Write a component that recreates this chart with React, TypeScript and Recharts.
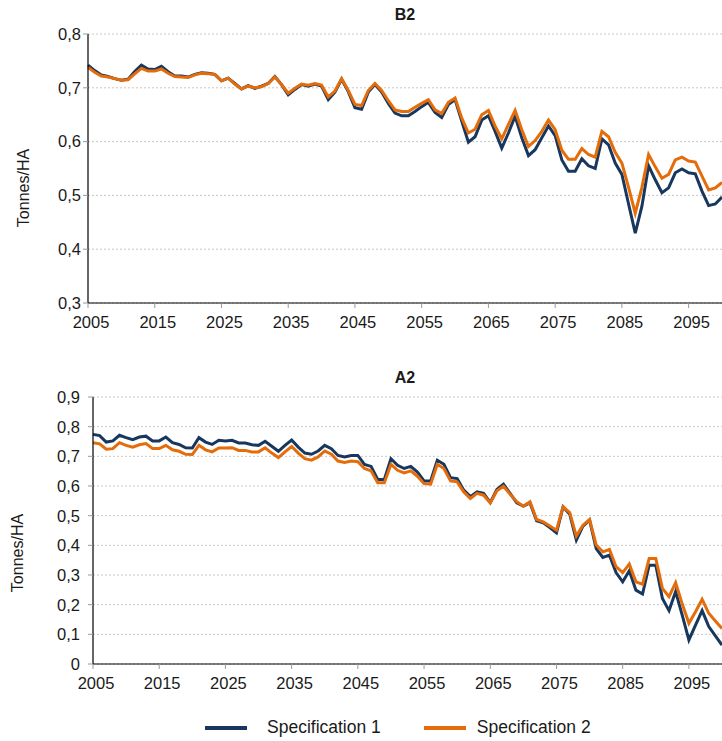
import React from 'react'
import { LineChart, Line, XAxis, YAxis, CartesianGrid } from 'recharts'

const YEARS: number[] = Array.from({ length: 96 }, (_, i) => 2005 + i)
const X_TICKS = [2005, 2015, 2025, 2035, 2045, 2055, 2065, 2075, 2085, 2095]

const B2_TICKS = [0.3, 0.4, 0.5, 0.6, 0.7, 0.8]
const A2_TICKS = [0, 0.1, 0.2, 0.3, 0.4, 0.5, 0.6, 0.7, 0.8, 0.9]

// B2 scenario, 2005..2100
const B2_SPEC1 = [
  0.742, 0.732, 0.724, 0.721, 0.717, 0.714, 0.716, 0.730, 0.742, 0.735,
  0.734, 0.740, 0.730, 0.722, 0.722, 0.720, 0.725, 0.728, 0.727, 0.725,
  0.713, 0.718, 0.708, 0.698, 0.704, 0.699, 0.703, 0.708, 0.721, 0.706,
  0.687, 0.697, 0.706, 0.703, 0.707, 0.703, 0.678, 0.692, 0.716, 0.693,
  0.663, 0.660, 0.692, 0.706, 0.692, 0.671, 0.653, 0.648, 0.648, 0.656,
  0.665, 0.673, 0.654, 0.645, 0.669, 0.678, 0.638, 0.599, 0.609, 0.640,
  0.648, 0.619, 0.588, 0.616, 0.647, 0.607, 0.574, 0.585, 0.607, 0.629,
  0.611, 0.566, 0.545, 0.545, 0.568, 0.555, 0.550, 0.605, 0.594, 0.560,
  0.539, 0.484, 0.430, 0.480, 0.555, 0.529, 0.505, 0.514, 0.542, 0.549,
  0.542, 0.540, 0.508, 0.481, 0.484, 0.497,
]
const B2_SPEC2 = [
  0.738, 0.729, 0.722, 0.720, 0.717, 0.714, 0.715, 0.726, 0.736, 0.731,
  0.731, 0.735, 0.727, 0.721, 0.720, 0.719, 0.724, 0.727, 0.726, 0.725,
  0.713, 0.718, 0.707, 0.698, 0.703, 0.700, 0.702, 0.708, 0.720, 0.706,
  0.690, 0.699, 0.707, 0.705, 0.708, 0.705, 0.683, 0.694, 0.717, 0.695,
  0.669, 0.667, 0.695, 0.708, 0.695, 0.676, 0.659, 0.656, 0.656, 0.664,
  0.671, 0.678, 0.659, 0.652, 0.673, 0.681, 0.644, 0.616, 0.623, 0.650,
  0.658, 0.629, 0.605, 0.632, 0.658, 0.622, 0.591, 0.602, 0.619, 0.640,
  0.622, 0.584, 0.567, 0.567, 0.587, 0.576, 0.571, 0.619, 0.609, 0.580,
  0.560, 0.515, 0.467, 0.515, 0.576, 0.553, 0.532, 0.539, 0.566, 0.571,
  0.564, 0.562, 0.536, 0.510, 0.514, 0.524,
]

// A2 scenario, 2005..2100
const A2_SPEC1 = [
  0.774, 0.770, 0.748, 0.752, 0.771, 0.763, 0.756, 0.765, 0.768, 0.752,
  0.752, 0.765, 0.746, 0.740, 0.729, 0.728, 0.763, 0.748, 0.740, 0.754,
  0.752, 0.754, 0.745, 0.745, 0.739, 0.737, 0.751, 0.734, 0.717, 0.737,
  0.755, 0.731, 0.711, 0.707, 0.718, 0.737, 0.726, 0.703, 0.698, 0.703,
  0.703, 0.673, 0.666, 0.622, 0.622, 0.692, 0.670, 0.659, 0.666, 0.647,
  0.617, 0.617, 0.687, 0.673, 0.628, 0.625, 0.586, 0.564, 0.580, 0.575,
  0.544, 0.588, 0.606, 0.575, 0.543, 0.532, 0.543, 0.483, 0.476, 0.460,
  0.442, 0.530, 0.505, 0.418, 0.465, 0.485, 0.389, 0.359, 0.367, 0.308,
  0.277, 0.314, 0.249, 0.236, 0.333, 0.333, 0.221, 0.180, 0.244, 0.164,
  0.081, 0.131, 0.180, 0.126, 0.095, 0.064,
]
const A2_SPEC2 = [
  0.746, 0.742, 0.724, 0.726, 0.746, 0.737, 0.731, 0.739, 0.743, 0.726,
  0.726, 0.737, 0.722, 0.717, 0.707, 0.706, 0.737, 0.722, 0.715, 0.728,
  0.728, 0.729, 0.720, 0.720, 0.715, 0.715, 0.729, 0.711, 0.696, 0.715,
  0.733, 0.711, 0.692, 0.687, 0.698, 0.718, 0.707, 0.684, 0.679, 0.684,
  0.682, 0.659, 0.651, 0.611, 0.611, 0.673, 0.653, 0.644, 0.651, 0.633,
  0.608, 0.606, 0.673, 0.659, 0.617, 0.614, 0.580, 0.558, 0.575, 0.569,
  0.543, 0.584, 0.599, 0.572, 0.547, 0.532, 0.547, 0.487, 0.479, 0.465,
  0.451, 0.530, 0.510, 0.431, 0.468, 0.487, 0.401, 0.378, 0.386, 0.328,
  0.308, 0.337, 0.277, 0.269, 0.356, 0.356, 0.255, 0.227, 0.274, 0.202,
  0.137, 0.176, 0.218, 0.171, 0.145, 0.120,
]

const BLUE = '#17375E'
const ORANGE = '#E46C0A'
const FONT = '"Liberation Sans", Arial, sans-serif'
const TEXT = '#1a1a1a'
const H = 340

const fmt = (v: number) => (v === 0 ? '0' : v.toFixed(1).replace('.', ','))

function Panel({
  title, spec1, spec2, yTicks, top, yAxisWidth, plotTop, plotBottom, tickMargin, labelX, labelY,
}: {
  title: string
  spec1: number[]
  spec2: number[]
  yTicks: number[]
  top: number
  yAxisWidth: number
  plotTop: number
  plotBottom: number
  tickMargin: number
  labelX: number
  labelY: number
}) {
  const data = YEARS.map((year, i) => ({ year, s1: spec1[i], s2: spec2[i] }))
  return (
    <div style={{ position: 'absolute', left: 0, top, width: 722, height: H }}>
      <div
        style={{
          position: 'absolute', left: 0, width: 810, top: plotTop - 28,
          textAlign: 'center', fontWeight: 'bold', fontSize: 16, fontFamily: FONT, color: TEXT,
        }}
      >
        {title}
      </div>
      <LineChart width={722} height={H} data={data} margin={{ top: plotTop, right: 0, left: 0, bottom: H - plotBottom - 30 }}>
        <CartesianGrid vertical={false} stroke="#c8c8c8" strokeDasharray="2 2" />
        <XAxis
          dataKey="year"
          type="number"
          domain={[2005, 2100]}
          ticks={X_TICKS}
          interval={0}
          axisLine={{ stroke: '#000', strokeWidth: 1.2 }}
          tickLine={{ stroke: '#999' }}
          tickSize={5}
          tickMargin={8}
          tick={{ fill: TEXT, fontSize: 16.5, fontFamily: FONT, dx: 3 }}
        />
        <YAxis
          domain={[yTicks[0], yTicks[yTicks.length - 1]]}
          ticks={yTicks}
          interval={0}
          width={yAxisWidth}
          tickFormatter={fmt}
          axisLine={{ stroke: '#000', strokeWidth: 1.2 }}
          tickLine={{ stroke: '#999' }}
          tickSize={5}
          tickMargin={tickMargin}
          tick={{ fill: TEXT, fontSize: 16.5, fontFamily: FONT }}
          label={{
            content: () => (
              <text
                x={labelX}
                y={labelY}
                transform={`rotate(-90 ${labelX} ${labelY})`}
                textAnchor="middle"
                dominantBaseline="central"
                fill={TEXT}
                fontSize={16}
                fontFamily={FONT}
              >
                Tonnes/HA
              </text>
            ),
          }}
        />
        <Line dataKey="s1" name="Specification 1" stroke={BLUE} strokeWidth={3} dot={false} isAnimationActive={false} />
        <Line dataKey="s2" name="Specification 2" stroke={ORANGE} strokeWidth={3} dot={false} isAnimationActive={false} />
      </LineChart>
    </div>
  )
}

export default function App() {
  return (
    <div style={{ position: 'absolute', left: 0, top: 0, width: 722, height: 741, overflow: 'hidden', background: '#fff' }}>
      <Panel title="B2" spec1={B2_SPEC1} spec2={B2_SPEC2} yTicks={B2_TICKS} top={0}
        yAxisWidth={88} plotTop={34} plotBottom={303} tickMargin={2} labelX={23} labelY={188} />
      <Panel title="A2" spec1={A2_SPEC1} spec2={A2_SPEC2} yTicks={A2_TICKS} top={363}
        yAxisWidth={93} plotTop={34} plotBottom={301} tickMargin={8} labelX={17} labelY={190} />
      <div
        style={{
          position: 'absolute', top: 717, left: 0, width: 722, display: 'flex',
          alignItems: 'center', fontFamily: FONT, fontSize: 17.5, color: TEXT,
        }}
      >
        <svg width={42} height={6} style={{ marginLeft: 205 }}>
          <line x1={0} y1={3} x2={42} y2={3} stroke={BLUE} strokeWidth={4} />
        </svg>
        <span style={{ marginLeft: 20 }}>Specification 1</span>
        <svg width={42} height={6} style={{ marginLeft: 43 }}>
          <line x1={0} y1={3} x2={42} y2={3} stroke={ORANGE} strokeWidth={4} />
        </svg>
        <span style={{ marginLeft: 11 }}>Specification 2</span>
      </div>
    </div>
  )
}
